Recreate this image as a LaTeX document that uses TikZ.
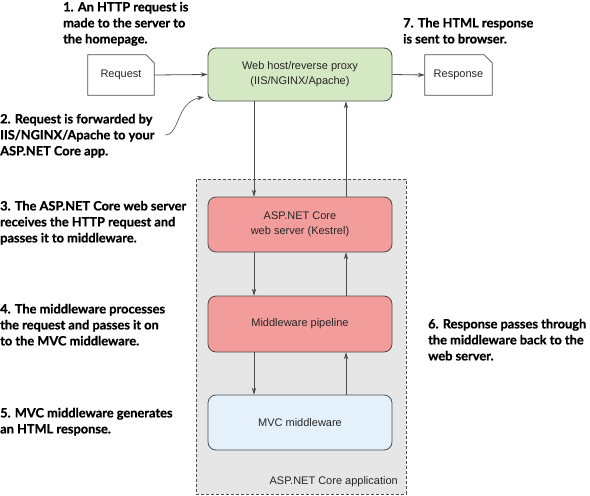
\documentclass[tikz,border=0pt]{standalone}
\usepackage{fontspec}
\setmainfont{Liberation Sans}
\newfontfamily\annfont{Lato}[BoldFeatures={FakeBold=0.8}]
\usetikzlibrary{arrows.meta}
\definecolor{hostgreen}{HTML}{D5E8C4}
\definecolor{salmon}{HTML}{F39C9C}
\definecolor{paleblue}{HTML}{E4F1FB}
\definecolor{appgray}{HTML}{E6E6E6}
\definecolor{edgegray}{HTML}{4D4D4D}
\tikzset{
  ann/.style={font=\annfont\bfseries\fontsize{12.8}{16}\selectfont, align=left, anchor=north west, inner sep=0pt, text=black},
  boxtext/.style={font=\fontsize{11}{15}\selectfont, align=center, text=black!85},
  procbox/.style={boxtext, draw=edgegray, line width=0.8pt, rounded corners=8pt, minimum width=184pt, inner sep=0pt},
  docbox/.style={boxtext, minimum width=66pt, minimum height=40pt, inner sep=0pt},
  docline/.style={draw=edgegray, line width=0.8pt, fill=white},
  conn/.style={draw=edgegray, line width=0.8pt, -{Stealth[length=7pt,width=4.5pt]}},
}
\begin{document}
\begin{tikzpicture}[x=1pt,y=-1pt]
\useasboundingbox (0,0) rectangle (590,496);
% container
\node[draw=edgegray, dash pattern=on 3pt off 2pt, line width=0.7pt, fill=appgray, minimum width=210pt, minimum height=315pt, inner sep=0pt] (app) at (301,336.5) {};
\node[boxtext, anchor=base east, inner sep=0pt] (applbl) at (398,484) {ASP.NET Core application};
% boxes
\node[procbox, fill=hostgreen, minimum height=53pt] (host) at (300,74.5) {Web host/reverse proxy\\(IIS/NGINX/Apache)};
\node[procbox, fill=salmon, minimum height=55pt] (asp) at (300,224.5) {ASP.NET Core\\web server (Kestrel)};
\node[procbox, fill=salmon, minimum height=56pt] (mw) at (300,324) {Middleware pipeline};
\node[procbox, fill=paleblue, minimum height=55pt] (mvc) at (300,422.5) {MVC middleware};
% documents
\node[docbox] (req) at (121,75) {};
\path[docline] (req.north west) -- ([xshift=-8pt]req.north east) -- ([yshift=-8pt]req.north east) -- (req.south east) -- (req.south west) -- cycle;
\node[boxtext] (reqt) at (req.center) {Request};
\node[docbox, minimum width=67pt] (resp) at (458.5,75) {};
\path[docline] (resp.north west) -- ([xshift=-8pt]resp.north east) -- ([yshift=-8pt]resp.north east) -- (resp.south east) -- (resp.south west) -- cycle;
\node[boxtext] (respt) at (resp.center) {Response};
% connectors
\draw[conn] (req.east) -- (host.west);
\draw[conn] (host.east) -- (resp.west);
\draw[conn] ([xshift=-46pt]host.south) -- ([xshift=-46pt]asp.north);
\draw[conn] ([xshift=-46pt]asp.south) -- ([xshift=-46pt]mw.north);
\draw[conn] ([xshift=-46pt]mw.south) -- ([xshift=-46pt]mvc.north);
\draw[conn] ([xshift=46pt]mvc.north) -- ([xshift=46pt]mw.south);
\draw[conn] ([xshift=46pt]mw.north) -- ([xshift=46pt]asp.south);
\draw[conn] ([xshift=46pt]asp.north) -- ([xshift=46pt]host.south);
\coordinate (c2) at (165,135);
\coordinate (c2end) at (204,97);
\draw[draw=edgegray, line width=0.6pt, -{Stealth[length=7pt,width=4.5pt]}] (c2) .. controls (180,135) and (176,102) .. (c2end);
% annotations
\node[ann] (a1) at (63,0) {\strut 1. An HTTP request is\\made to the server to\\the homepage.};
\node[ann] (a2) at (0,112) {\strut 2. Request is forwarded by\\IIS/NGINX/Apache to your\\ASP.NET Core app.};
\node[ann] (a3) at (0,199) {\strut 3. The ASP.NET Core web server\\receives the HTTP request and\\passes it to middleware.};
\node[ann] (a4) at (0,302) {\strut 4. The middleware processes\\the request and passes it on\\to the MVC middleware.};
\node[ann] (a5) at (0,406) {\strut 5. MVC middleware generates\\an HTML response.};
\node[ann] (a6) at (428,317) {\strut 6. Response passes through\\the middleware back to the\\web server.};
\node[ann] (a7) at (403,16) {\strut 7. The HTML response\\is sent to browser.};
\end{tikzpicture}
\end{document}
